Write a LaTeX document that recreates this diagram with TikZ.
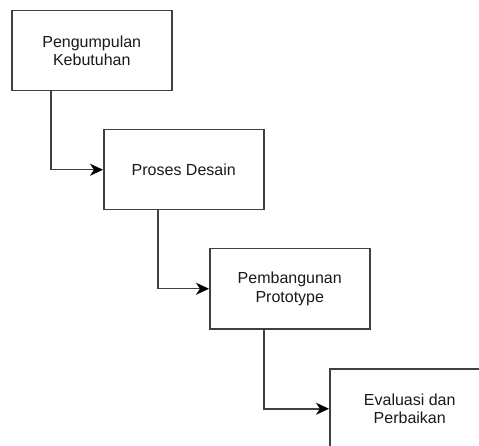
\documentclass[tikz,border=0pt]{standalone}
\usepackage{fontspec}
\setmainfont{Liberation Sans}
\usetikzlibrary{arrows.meta}
\tikzset{
  stepbox/.style={draw=black!75, line width=1.5pt, minimum width=160pt, minimum height=80pt,
    inner sep=0pt, align=center, font=\fontsize{16}{18.5}\selectfont, text=black!90, anchor=north west},
  conn/.style={draw=black!75, line width=1.5pt, -{Stealth[length=13pt,width=12pt,inset=4pt,color=black]}}
}
\begin{document}
\begin{tikzpicture}[x=1pt,y=-1pt]
\useasboundingbox (0,0) rectangle (479,446);
\clip (0,0) rectangle (479,446);
\node[stepbox] (a) at (11,10) {Pengumpulan\\Kebutuhan};
\node[stepbox] (b) at (103,129) {Proses Desain};
\node[stepbox] (c) at (209,248) {Pembangunan\\Prototype};
\node[stepbox] (d) at (329,368) {Evaluasi dan\\Perbaikan};
\draw[conn] ([xshift=-41pt]a.south) |- (b.west);
\draw[conn] ([xshift=-26pt]b.south) |- (c.west);
\draw[conn] ([xshift=-26pt]c.south) |- (d.west);
\end{tikzpicture}
\end{document}
